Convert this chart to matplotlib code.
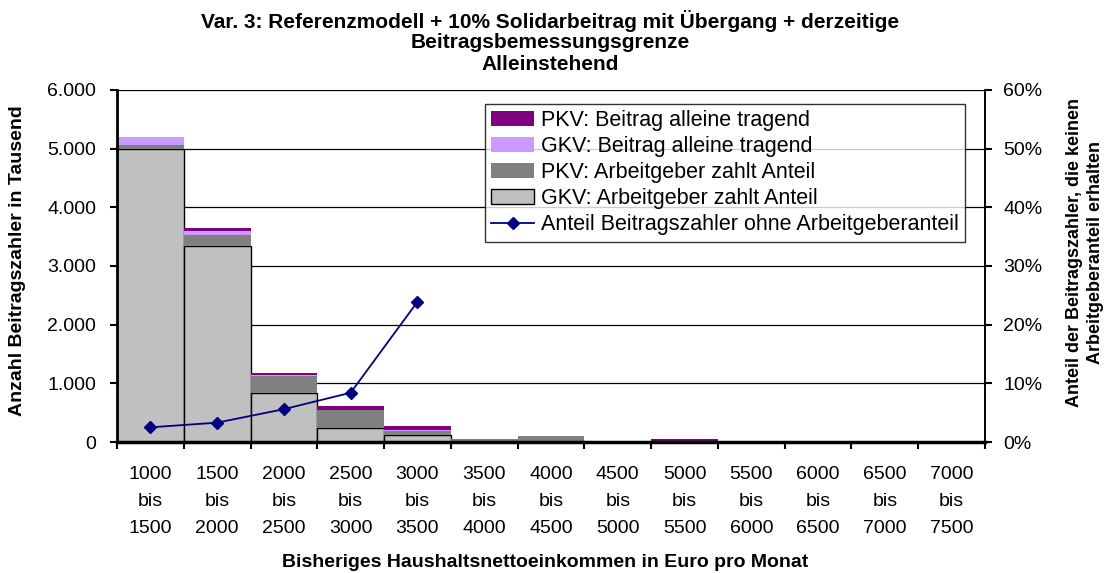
import numpy as np
import matplotlib
matplotlib.use('Agg')
import matplotlib.pyplot as plt
from matplotlib.ticker import FuncFormatter

plt.rcParams['font.family'] = ['Liberation Sans', 'DejaVu Sans']

lower = [1000, 1500, 2000, 2500, 3000, 3500, 4000, 4500, 5000, 5500, 6000, 6500, 7000]
upper = [1500, 2000, 2500, 3000, 3500, 4000, 4500, 5000, 5500, 6000, 6500, 7000, 7500]

# Tausend Beitragszahler
gkv_ag = [4990, 3340, 830, 245, 120, 15, 10, 0, 0, 0, 0, 0, 0]
pkv_ag = [70, 180, 300, 300, 70, 35, 90, 0, 10, 0, 0, 0, 0]
gkv_allein = [140, 80, 10, 5, 10, 0, 0, 0, 0, 0, 0, 0, 0]
pkv_allein = [0, 40, 35, 70, 70, 0, 0, 0, 40, 0, 0, 0, 0]

# Anteil ohne Arbeitgeberanteil (%), nur erste fuenf Klassen
anteil = [2.5, 3.3, 5.6, 8.4, 23.9]

title_lines = ['Var. 3: Referenzmodell + 10% Solidarbeitrag mit Übergang + derzeitige',
               'Beitragsbemessungsgrenze', 'Alleinstehend']

labels = ['%d\nbis\n%d' % (a, b) for a, b in zip(lower, upper)]
x = np.arange(len(labels))

fig = plt.figure(figsize=(11.1, 5.73), dpi=100)
ax = fig.add_axes([0.1054, 0.2286, 0.782, 0.6144])
ax2 = ax.twinx()

b1 = ax.bar(x, gkv_ag, 1.0, color='#c0c0c0', edgecolor='black', linewidth=1.0,
            label='GKV: Arbeitgeber zahlt Anteil', zorder=2)
bot = np.array(gkv_ag, dtype=float)
b2 = ax.bar(x, pkv_ag, 1.0, bottom=bot, color='#808080', linewidth=0,
            label='PKV: Arbeitgeber zahlt Anteil', zorder=2)
bot += pkv_ag
b3 = ax.bar(x, gkv_allein, 1.0, bottom=bot, color='#cc99ff', linewidth=0,
            label='GKV: Beitrag alleine tragend', zorder=2)
bot += gkv_allein
b4 = ax.bar(x, pkv_allein, 1.0, bottom=bot, color='#800080', linewidth=0,
            label='PKV: Beitrag alleine tragend', zorder=2)

ax.set_xlim(-0.5, len(labels) - 0.5)
ax.set_ylim(0, 6000)
ax.set_yticks(np.arange(0, 6001, 1000))
ax.yaxis.set_major_formatter(FuncFormatter(lambda v, p: '0' if v == 0 else '{:,.0f}'.format(v).replace(',', '.')))
ax.yaxis.grid(True, color='black', linewidth=0.9, zorder=0)
ax.set_axisbelow(True)
ax.set_xticks(x)
ax.set_xticklabels(labels, fontsize=14, linespacing=1.8)
ax.set_xticks(np.arange(-0.5, len(labels)), minor=True)
ax.tick_params(axis='x', which='major', length=0, pad=17)
ax.tick_params(axis='x', which='minor', length=5, width=1.5, direction='out')
ax.tick_params(axis='y', labelsize=14, length=5, width=1.5, pad=10)
ax.spines['top'].set_visible(False)
ax.spines['left'].set_linewidth(2)
ax.spines['bottom'].set_linewidth(2.5)
ax.spines['right'].set_linewidth(1.2)

ax2.plot(x[:len(anteil)], anteil, color='#000080', marker='D', markersize=6,
         linewidth=1.3, label='Anteil Beitragszahler ohne Arbeitgeberanteil', zorder=3)
ax2.set_ylim(0, 60)
ax2.set_yticks(np.arange(0, 61, 10))
ax2.yaxis.set_major_formatter(FuncFormatter(lambda v, p: '%d%%' % v))
ax2.tick_params(axis='y', labelsize=14, length=5, width=1.5, pad=8)
ax2.spines['top'].set_visible(False)
ax2.spines['right'].set_linewidth(1.2)

fig.text(18 / 1110, 0.546, 'Anzahl Beitragszahler in Tausend', rotation=90,
         ha='center', va='center', fontsize=14, fontweight='bold')
fig.text(1085 / 1110, 0.56, 'Anteil der Beitragszahler, die keinen\nArbeitgeberanteil erhalten',
         rotation=90, ha='center', va='center', fontsize=13, fontweight='bold',
         multialignment='center', linespacing=1.35)
fig.text(0.491, 0.019, 'Bisheriges Haushaltsnettoeinkommen in Euro pro Monat',
         ha='center', va='center', fontsize=14, fontweight='bold')
for line, yp in zip(title_lines, [21, 43, 65]):
    fig.text(0.496, 1 - yp / 573, line, ha='center', va='center',
             fontsize=15, fontweight='bold')

handles = [b4, b3, b2, b1] + ax2.get_lines()
leg = ax2.legend(handles=handles, loc='upper right',
                 bbox_to_anchor=(965 / 1110, 1 - 104 / 573), bbox_transform=fig.transFigure,
                 fontsize=15.5, frameon=True, fancybox=False, edgecolor='black',
                 borderpad=0.3, labelspacing=0.23, handlelength=2.0, handletextpad=0.3,
                 borderaxespad=0)
leg.get_frame().set_linewidth(1.0)

fig.savefig('out.png', dpi=100)
